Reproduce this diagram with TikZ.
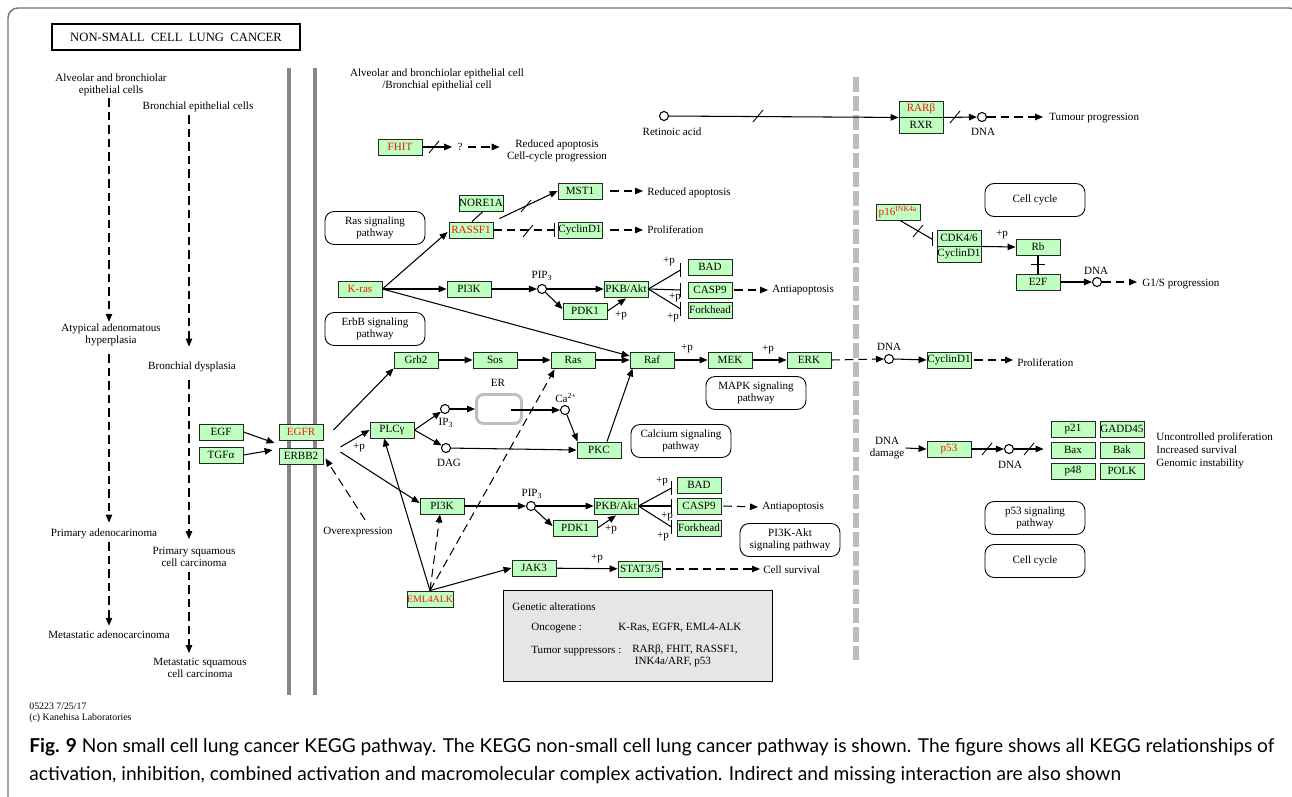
\documentclass[tikz,border=0pt]{standalone}
\usepackage{fontspec}
\setmainfont{Liberation Serif}
\newfontfamily\captionfont{Lato}
\usetikzlibrary{arrows.meta,calc,positioning}

\definecolor{genegreen}{RGB}{191,255,191}
\definecolor{keggred}{RGB}{250,20,20}
\definecolor{membrane}{RGB}{135,135,135}
\definecolor{nucleus}{RGB}{190,190,190}
\definecolor{altgray}{RGB}{230,230,230}

% short slash across a line (missing interaction)
\newcommand{\cutmark}[1]{\draw[line width=0.5pt] (#1) ++(-5,6) -- ++(10,-12);}
% vertical inhibition bar
\newcommand{\inhbar}[1]{\draw[line width=0.6pt] (#1) ++(0,-7) -- ++(0,14);}

\begin{document}
\begin{tikzpicture}[x=0.02cm,y=-0.02cm]
	\tikzstyle{every node}=[font=\fontsize{6.3}{6.6}\selectfont, inner sep=0pt]
	\tikzstyle{gene}=[draw=black!85, fill=genegreen, line width=0.5pt, minimum width=0.88cm, minimum height=0.32cm]
	\tikzstyle{onco}=[gene, text=keggred]
	\tikzstyle{pathway}=[draw, line width=0.5pt, rounded corners=0.18cm, minimum width=2cm, minimum height=0.66cm, align=center]
	\tikzstyle{cpd}=[draw, circle, fill=white, line width=0.6pt, minimum size=0.18cm]
	\tikzstyle{act}=[line width=0.6pt, -{Triangle[length=0.16cm,width=0.13cm]}]
	\tikzstyle{ind}=[act, dash pattern=on 0.17cm off 0.1cm]
	\tikzstyle{inh}=[line width=0.6pt, -{Bar[width=0.28cm]}]
	\tikzstyle{bond}=[line width=0.6pt]
	\tikzstyle{lbl}=[align=center]
	\useasboundingbox (0,0) rectangle (1292,797);
	% frame, membranes, nucleus
	\draw[black!55, line width=0.8pt, rounded corners=0.2cm] (8,830) -- (8,8) -- (1299,8) -- (1299,830);
	\draw[membrane, line width=2.2pt] (289,68) -- (289,695);
	\draw[membrane, line width=2.2pt] (315,68) -- (315,695);
	\draw[nucleus, line width=3.4pt, dash pattern=on 8.5pt off 2.3pt] (856,77) -- (856,660);
	\node[draw, line width=0.9pt, minimum width=4.96cm, minimum height=0.52cm, font=\fontsize{7.2}{8}\selectfont] (title) at (176,37) {NON-SMALL\ \ CELL\ \ LUNG\ \ CANCER};

	% left column: progression
	\node[lbl] (alv) at (111,85) {Alveolar and bronchiolar\\epithelial cells};
	\node (bec) at (198,107) {Bronchial epithelial cells};
	\node[lbl] (aah) at (111,335) {Atypical adenomatous\\hyperplasia};
	\node (bdy) at (192,367) {Bronchial dysplasia};
	\node (pad) at (104,534) {Primary adenocarinoma};
	\node[lbl] (psq) at (194,557) {Primary squamous\\cell carcinoma};
	\node (mad) at (109,635) {Metastatic adenocarcinoma};
	\node[lbl] (msq) at (200,668) {Metastatic squamous\\cell carcinoma};
	\draw[ind] ($(alv.south)+(-2,2)$) -- ($(aah.north)+(-2,-2)$);
	\draw[ind] ($(aah.south)+(-2,8)$) -- ($(pad.north)+(5,-6)$);
	\draw[ind] ($(pad.south)+(5,3)$) -- ($(mad.north)+(0,-5)$);
	\draw[ind] ($(bec.south)+(-9,3)$) -- ($(bdy.north)+(-3,-15)$);
	\draw[ind] ($(bdy.south)+(-3,8)$) -- ($(psq.north)+(-5,-8)$);
	\draw[ind] ($(psq.south)+(-5,5)$) -- ($(msq.north)+(-11,-5)$);

	% ligands and receptors
	\node[gene] (egf) at (221,432) {EGF};
	\node[gene] (tgfa) at (221,455) {TGFα};
	\node[onco] (egfr) at (301,432) {EGFR};
	\node[gene] (erbb) at (301,456) {ERBB2};
	\draw[act] (egf.east) -- ($(egfr.west)+(-4,11)$);
	\draw[act] (tgfa.east) -- ($(erbb.west)+(-6,-6)$);

	\node[lbl] (cellhdr) at (437,80) {Alveolar and bronchiolar epithelial cell\\/Bronchial epithelial cell};

	% FHIT
	\node[onco] (fhit) at (400,147) {FHIT};
	\node (qmark) at (460,147) {?};
	\node[lbl] (redcc) at (557,151) {Reduced apoptosis\\Cell-cycle progression};
	\draw[act] (fhit.east) -- ($(qmark.west)+(-5,0)$);
	\cutmark{434,147}
	\draw[ind] ($(qmark.east)+(5,0)$) -- ($(redcc.west)+(-7,-4)$);

	% RASSF1 branch
	\node[pathway] (raspw) at (375,228) {Ras signaling\\pathway};
	\node[pathway] (erbbpw) at (375,329) {ErbB signaling\\pathway};
	\node[gene] (nore) at (481,203) {NORE1A};
	\node[onco] (rassf) at (471,230) {RASSF1};
	\node[gene] (mst) at (580,191) {MST1};
	\node[gene] (ccnda) at (580,230) {CyclinD1};
	\node[anchor=west] (redap) at (647,193) {Reduced apoptosis};
	\node[anchor=west] (prolifa) at (647,230) {Proliferation};
	\draw[bond] ($(nore.south)+(2,0)$) -- ($(rassf.north)+(1,0)$);
	\draw[act] ($(rassf.north east)+(6,-3)$) -- (mst.west);
	\cutmark{526,206}
	\draw[inh, dash pattern=on 0.17cm off 0.1cm] (rassf.east) -- ($(ccnda.west)+(-3,0)$);
	\cutmark{528,231}
	\draw[ind] ($(mst.east)+(8,0)$) -- ($(redap.west)+(-4,-2)$);
	\draw[ind] ($(ccnda.east)+(8,0)$) -- ($(prolifa.west)+(-4,0)$);

	% K-ras branch
	\node[onco] (kras) at (360,289) {K-ras};
	\node[gene] (pika) at (469,289) {PI3K};
	\node[cpd] (pipa) at (542,289) {};
	\node (pipalbl) at (542,276) {PIP\textsubscript{3}};
	\node[gene] (pkba) at (626,289) {PKB/Akt};
	\node[gene] (pdka) at (585,311) {PDK1};
	\node[gene] (bada) at (710,267) {BAD};
	\node[gene] (casa) at (710,290) {CASP9};
	\node[gene] (forka) at (710,310) {Forkhead};
	\node[anchor=west] (antia) at (772,290) {Antiapoptosis};
	\draw[act] (kras.east) -- ($(rassf.west)+(-1,2)$);
	\draw[act] (kras.east) -- (pika.west);
	\draw[act] (pika.east) -- (pipa);
	\draw[act] (pipa) -- (pkba.west);
	\draw[act] (pipa) -- ($(pdka.west)+(0,-2)$);
	\draw[act] (pdka.east) -- ($(pkba.south)+(0,1)$);
	\node (pa1) at (621,316) {+p};
	\draw[bond] (pkba.east) -- ($(bada.west)+(-7,3)$) coordinate (ba1);
	\inhbar{ba1}
	\draw[bond] (pkba.east) -- ($(casa.west)+(-7,0)$) coordinate (ca1);
	\inhbar{ca1}
	\draw[bond] (pkba.east) -- ($(forka.west)+(-7,-1)$) coordinate (fo1);
	\inhbar{fo1}
	\node (pa2) at (669,262) {+p};
	\node (pa3) at (675,298) {+p};
	\node (pa4) at (673,318) {+p};
	\draw[ind] ($(casa.east)+(2,0)$) -- ($(antia.west)+(-4,0)$);

	% MAPK cascade
	\node[gene] (grb) at (416,360) {Grb2};
	\node[gene] (sos) at (495,360) {Sos};
	\node[gene] (rasn) at (573,360) {Ras};
	\node[gene] (raf) at (652,360) {Raf};
	\node[gene] (mek) at (730,360) {MEK};
	\node[gene] (erk) at (809,360) {ERK};
	\draw[act] (kras.east) -- ($(raf.west)+(0,-4)$);
	\draw[act] ($(erbb.east)+(10,-26)$) -- (grb.south west);
	\draw[act] (grb) -- (sos);
	\draw[act] (sos) -- (rasn);
	\draw[act] (rasn) -- (raf);
	\draw[act] (raf) -- (mek);
	\draw[act] (mek) -- (erk);
	\node (pa5) at (687,349) {+p};
	\node (pa6) at (768,350) {+p};
	\node[pathway] (mapkpw) at (756,393) {MAPK signaling\\pathway};
	\node[pathway] (calpw) at (681,441) {Calcium signaling\\pathway};
	\node[pathway] (pi3kpw) at (790,540) {PI3K-Akt\\signaling pathway};
	\node[cpd] (dnab) at (889,359) {};
	\node (dnablbl) at (889,347) {DNA};
	\node[gene] (ccndb) at (949,360) {CyclinD1};
	\node[anchor=west] (prolifb) at (1017,363) {Proliferation};
	\draw[ind] (erk.east) -- (dnab.west);
	\draw[act] (dnab.east) -- (ccndb.west);
	\draw[ind] ($(ccndb.east)+(3,0)$) -- ($(prolifb.west)+(-4,-3)$);

	% PLC gamma branch
	\node[gene] (plc) at (392,430) {PLCγ};
	\node (pa7) at (359,448) {+p};
	\node[cpd] (ipt) at (445,409) {};
	\node (iptlbl) at (446,423) {IP\textsubscript{3}};
	\node[cpd] (dag) at (446,448) {};
	\node (daglbl) at (449,463) {DAG};
	\node[draw=black!25, line width=1.7pt, rounded corners=0.14cm, minimum width=0.9cm, minimum height=0.58cm] (er) at (499,409) {};
	\node (erlbl) at (498,383) {ER};
	\node[cpd] (ca) at (565,410) {};
	\node (calbl) at (566,398) {Ca\textsuperscript{2+}};
	\node[gene] (pkc) at (599,450) {PKC};
	\draw[act] ($(erbb.east)+(17,-9)$) -- (plc.west);
	\draw[act] (plc.east) -- (ipt);
	\draw[act] (plc.east) -- (dag);
	\draw[act] (ipt) -- (er.west);
	\draw[act] ($(er.center)+(12,1)$) -- (ca);
	\draw[act] (ca) -- ($(pkc.north west)+(1,0)$);
	\draw[act] (dag) -- (pkc.west);
	\draw[act] ($(pkc.north)+(8,0)$) -- ($(raf.south west)+(3,0)$);

	% PI3K-Akt branch
	\node[gene] (pikb) at (442,506) {PI3K};
	\node[cpd] (pipb) at (531,506) {};
	\node (pipblbl) at (532,494) {PIP\textsubscript{3}};
	\node[gene] (pkbb) at (616,506) {PKB/Akt};
	\node[gene] (pdkb) at (575,528) {PDK1};
	\node[gene] (badb) at (699,485) {BAD};
	\node[gene] (casb) at (699,506) {CASP9};
	\node[gene] (forkb) at (699,528) {Forkhead};
	\node[anchor=west] (antib) at (762,507) {Antiapoptosis};
	\draw[act] ($(erbb.east)+(17,-4)$) -- ($(pikb.west)+(0,-3)$);
	\draw[act] (pikb.east) -- (pipb);
	\draw[act] (pipb) -- (pkbb.west);
	\draw[act] (pipb) -- ($(pdkb.west)+(0,-2)$);
	\draw[act] (pdkb.east) -- ($(pkbb.south)+(0,1)$);
	\node (pa8) at (611,530) {+p};
	\draw[bond] (pkbb.east) -- ($(badb.west)+(-5,3)$) coordinate (ba2);
	\inhbar{ba2}
	\draw[bond] (pkbb.east) -- ($(casb.west)+(-5,0)$) coordinate (ca2);
	\inhbar{ca2}
	\draw[bond] (pkbb.east) -- ($(forkb.west)+(-5,-1)$) coordinate (fo2);
	\inhbar{fo2}
	\node (pa9) at (662,482) {+p};
	\node (pa10) at (667,517) {+p};
	\node (pa11) at (663,537) {+p};
	\draw[ind] ($(casb.east)+(2,0)$) -- ($(antib.west)+(-4,0)$);

	% JAK-STAT and EML4-ALK
	\node[gene] (jak) at (534,568) {JAK3};
	\node[gene] (stat) at (640,569) {STAT3/5};
	\node (pa12) at (597,559) {+p};
	\node[anchor=west] (surv) at (763,570) {Cell survival};
	\draw[act] (jak) -- (stat);
	\draw[ind] (stat.east) -- ($(surv.west)+(-3,-1)$);
	\node[onco, font=\fontsize{5.6}{6}\selectfont] (eml) at (430,599) {EML4ALK};
	\draw[act] (eml.north) -- ($(plc.south)+(-8,0)$);
	\draw[ind] (eml.north) -- ($(pikb.south)+(-2,0)$);
	\draw[ind] (eml.north) -- ($(rasn.south west)+(4,1)$);
	\draw[act] (eml.north) -- (jak.west);
	\node (ovx) at (358,532) {Overexpression};
	\draw[ind] ($(ovx.north)+(7,-7)$) -- ($(erbb.south east)+(2,-6)$);

	% retinoic acid
	\node[cpd] (ra) at (664,116) {};
	\node (ralbl) at (672,132) {Retinoic acid};
	\node[onco] (rarb) at (921,109) {RARβ};
	\node[gene] (rxr) at (921,125) {RXR};
	\node[cpd] (dnaa) at (982,117) {};
	\node (dnaalbl) at (983,132) {DNA};
	\node[anchor=west] (tumour) at (1049,118) {Tumour progression};
	\draw[act] (ra) -- (rarb.south west);
	\cutmark{758,116}
	\draw[act] (rarb.south east) -- (dnaa);
	\cutmark{955,117}
	\draw[ind] (dnaa) -- ($(tumour.west)+(-6,-1)$);

	% cell cycle
	\node[pathway] (ccpw) at (1035,200) {Cell cycle};
	\node[onco] (p16) at (898,212) {p16\textsuperscript{INK4a}};
	\node[gene] (cdk) at (959,238) {CDK4/6};
	\node[gene] (cycd) at (959,254) {CyclinD1};
	\node[gene] (rb) at (1038,247) {Rb};
	\node[gene] (e2f) at (1038,282) {E2F};
	\node[cpd] (dnac) at (1097,282) {};
	\node (dnaclbl) at (1096,271) {DNA};
	\node[anchor=west] (g1s) at (1142,284) {G1/S progression};
	\draw[bond] ($(p16.south)+(2,0)$) -- ($(cdk.south west)+(-4,-7)$) coordinate (pb);
	\inhbar{pb}
	\cutmark{918,231}
	\draw[act] (cdk.south east) -- (rb.west);
	\node (pa13) at (1002,235) {+p};
	\draw[bond] (rb) -- (e2f);
	\draw[bond] ($(rb.south)!0.5!(e2f.north)+(-7,0)$) -- ++(14,0);
	\draw[act] (e2f) -- (dnac);
	\draw[ind] (dnac) -- ($(g1s.west)+(-5,-2)$);

	% p53
	\node[lbl] (dnadmg) at (887,448) {DNA\\damage};
	\node[onco] (p53) at (949,449) {p53};
	\node[cpd] (dnad) at (1009,449) {};
	\node (dnadlbl) at (1010,465) {DNA};
	\node[gene] (p21) at (1073,429) {p21};
	\node[gene] (gadd) at (1122,429) {GADD45};
	\node[gene] (bax) at (1073,450) {Bax};
	\node[gene] (bak) at (1122,450) {Bak};
	\node[gene] (p48) at (1073,471) {p48};
	\node[gene] (polk) at (1122,471) {POLK};
	\coordinate (tgt) at ($(bax.west)+(-7,-1)$);
	\draw[act] ($(dnadmg.east)+(1,0)$) -- (p53.west);
	\draw[act] (p53) -- (dnad);
	\cutmark{987,449}
	\draw[act] (dnad) -- (tgt);
	\cutmark{1029,449}
	\node[anchor=west, align=left, font=\fontsize{6.3}{7.3}\selectfont] (outc) at (1156,451) {Uncontrolled proliferation\\Increased survival\\Genomic instability};
	\node[pathway] (p53pw) at (1035,518) {p53 signaling\\pathway};
	\node[pathway] (ccpwb) at (1035,561) {Cell cycle};

	% genetic alterations
	\node[draw, line width=1.1pt, fill=altgray, minimum width=5.38cm, minimum height=1.82cm] (genalt) at (638,636) {};
	\node[anchor=west] (gahdr) at (512,607) {Genetic alterations};
	\node[anchor=west] (oncl) at (531,628) {Oncogene :};
	\node[anchor=west] (oncv) at (618,628) {K-Ras, EGFR, EML4-ALK};
	\node[anchor=west] (tsl) at (531,651) {Tumor suppressors :};
	\node[anchor=west, align=left] (tsv) at (632,656) {RARβ, FHIT, RASSF1,\\\hspace{1.5pt}INK4a/ARF, p53};

	% footer and caption
	\node[anchor=west, align=left, font=\fontsize{5.6}{6.5}\selectfont] (keggid) at (29,713) {05223 7/25/17\\(c) Kanehisa Laboratories};
	\node[anchor=base west, font=\captionfont\fontsize{10.9}{12}\selectfont] (capa) at (29,752) {\textbf{Fig. 9} Non small cell lung cancer KEGG pathway. The KEGG non-small cell lung cancer pathway is shown. The figure shows all KEGG relationships of};
	\node[anchor=base west, font=\captionfont\fontsize{10.9}{12}\selectfont] (capb) at (29,780) {activation, inhibition, combined activation and macromolecular complex activation. Indirect and missing interaction are also shown};
\end{tikzpicture}
\end{document}
